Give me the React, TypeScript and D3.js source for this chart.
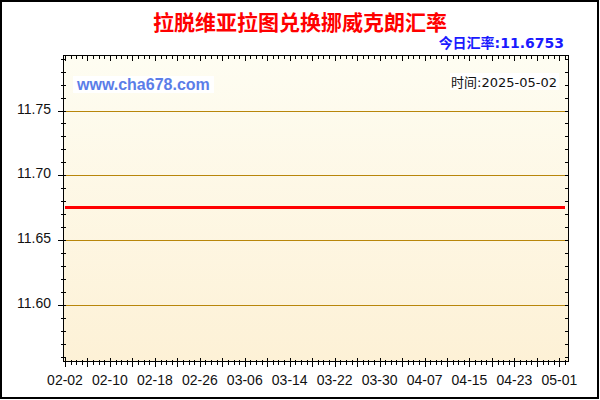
import React from "react";
import * as d3 from "d3";

// chart values
const title = "拉脱维亚拉图兑换挪威克朗汇率";
const todayLabel = "今日汇率:11.6753";
const timeLabel = "时间:2025-05-02";
const siteLabel = "www.cha678.com";

const startDate = "2025-02-02";
const endDate = "2025-05-02";

// daily rate, 02-02 .. 05-02 (flat)
const rates = [
  11.6753, 11.6753, 11.6753, 11.6753, 11.6753, 11.6753, 11.6753, 11.6753, 11.6753, 11.6753,
  11.6753, 11.6753, 11.6753, 11.6753, 11.6753, 11.6753, 11.6753, 11.6753, 11.6753, 11.6753,
  11.6753, 11.6753, 11.6753, 11.6753, 11.6753, 11.6753, 11.6753, 11.6753, 11.6753, 11.6753,
  11.6753, 11.6753, 11.6753, 11.6753, 11.6753, 11.6753, 11.6753, 11.6753, 11.6753, 11.6753,
  11.6753, 11.6753, 11.6753, 11.6753, 11.6753, 11.6753, 11.6753, 11.6753, 11.6753, 11.6753,
  11.6753, 11.6753, 11.6753, 11.6753, 11.6753, 11.6753, 11.6753, 11.6753, 11.6753, 11.6753,
  11.6753, 11.6753, 11.6753, 11.6753, 11.6753, 11.6753, 11.6753, 11.6753, 11.6753, 11.6753,
  11.6753, 11.6753, 11.6753, 11.6753, 11.6753, 11.6753, 11.6753, 11.6753, 11.6753, 11.6753,
  11.6753, 11.6753, 11.6753, 11.6753, 11.6753, 11.6753, 11.6753, 11.6753, 11.6753, 11.6753,
];

const xTickLabels = [
  "02-02", "02-10", "02-18", "02-26", "03-06", "03-14",
  "03-22", "03-30", "04-07", "04-15", "04-23", "05-01",
];
const yTickLabels = ["11.60", "11.65", "11.70", "11.75"];
const yDomain = [11.557, 11.792];

const width = 600;
const height = 400;
const plot = { left: 64, right: 568, top: 56, bottom: 361 };

export default function App() {
  const parse = d3.timeParse("%Y-%m-%d");
  const t0 = parse(startDate);
  const t1 = parse(endDate);
  const days = d3.timeDay.range(t0, d3.timeDay.offset(t1, 1));
  const data = days.map((d, i) => ({ date: d, value: rates[i] }));

  const x = d3.scaleTime().domain([t0, t1]).range([65, 565]);
  const y = d3.scaleLinear().domain(yDomain).range([plot.bottom, plot.top]);

  const line = d3
    .line()
    .x((d) => x(d.date))
    .y((d) => y(d.value));

  const yMinor = d3.range(1156, 1180).map((v) => v / 100);
  const labelFont = "'Liberation Sans', Arial, sans-serif";
  const cjk = "'Noto Sans CJK SC', sans-serif";

  return (
    <svg
      width={width}
      height={height}
      style={{ position: "absolute", left: 0, top: 0, background: "#fff" }}
    >
      <defs>
        <linearGradient id="bg" x1="0" y1="0" x2="0" y2="1">
          <stop offset="0%" stopColor="#fefdf2" />
          <stop offset="100%" stopColor="#fdf1d6" />
        </linearGradient>
      </defs>
      <rect x={0} y={0} width={width} height={height} fill="#fff" />
      <rect x={1} y={1} width={597} height={397} fill="none" stroke="#000" strokeWidth={2} />

      {/* plot area */}
      <rect
        x={plot.left}
        y={plot.top}
        width={plot.right - plot.left}
        height={plot.bottom - plot.top}
        fill="url(#bg)"
      />

      {/* gridlines */}
      {yTickLabels.map((t) => (
        <line
          key={"g" + t}
          x1={plot.left}
          x2={plot.right}
          y1={Math.round(y(+t)) + 0.5}
          y2={Math.round(y(+t)) + 0.5}
          stroke="#b8860b"
          strokeWidth={1}
        />
      ))}

      {/* watermark + date */}
      <rect x={73} y={76} width={141} height={17} fill="#fff" />
      <text x={77} y={90} fontFamily={labelFont} fontWeight="bold" fontSize={16} fill="#5b7de8">
        {siteLabel}
      </text>
      <rect x={450} y={73} width={109} height={17} fill="#fff" />
      <text
        x={557}
        y={87}
        textAnchor="end"
        fontFamily={"'DejaVu Sans', " + cjk}
        fontSize={13}
        fill="#111"
      >
        {timeLabel}
      </text>

      {/* series */}
      <path d={line(data)} fill="none" stroke="#ff0000" strokeWidth={3} />

      {/* frame */}
      <rect
        x={plot.left - 0.5}
        y={plot.top - 0.5}
        width={plot.right - plot.left + 1}
        height={plot.bottom - plot.top + 1}
        fill="none"
        stroke="#000"
        strokeWidth={1}
      />

      {/* x ticks (bottom and top) */}
      {days.map((d, i) => {
        const px = Math.round(x(d)) + 0.5;
        const major = i % 4 === 0;
        return (
          <g key={"x" + i}>
            <line x1={px} x2={px} y1={plot.bottom - (major ? 3 : 1)} y2={plot.bottom + (major ? 6 : 4)} stroke="#000" />
            <line x1={px} x2={px} y1={plot.top} y2={plot.top + (major ? 5 : 3)} stroke="#000" />
          </g>
        );
      })}
      {xTickLabels.map((t) => (
        <text
          key={"xl" + t}
          x={x(parse("2025-" + t))}
          y={385}
          textAnchor="middle"
          fontFamily={labelFont}
          fontSize={14}
          fill="#111"
        >
          {t}
        </text>
      ))}

      {/* y ticks (left and right) */}
      {yMinor.map((v) => {
        const py = Math.round(y(v)) + 0.5;
        const major = Math.round(v * 100) % 5 === 0;
        return (
          <g key={"y" + v}>
            <line x1={plot.left - (major ? 6 : 3)} x2={plot.left + 2} y1={py} y2={py} stroke="#000" />
            <line x1={plot.right - 3} x2={plot.right + 1} y1={py} y2={py} stroke="#000" />
          </g>
        );
      })}
      {yTickLabels.map((t) => (
        <text
          key={"yl" + t}
          x={51}
          y={y(+t) + 3}
          textAnchor="end"
          fontFamily={labelFont}
          fontSize={14}
          fill="#111"
        >
          {t}
        </text>
      ))}

      {/* header */}
      <text x={300} y={30} textAnchor="middle" fontFamily={cjk} fontWeight="bold" fontSize={21} fill="#ff0000">
        {title}
      </text>
      <text
        x={564}
        y={48}
        textAnchor="end"
        fontFamily={"'DejaVu Sans', " + cjk}
        fontWeight="bold"
        fontSize={14}
        fill="#1a1aff"
      >
        {todayLabel}
      </text>
    </svg>
  );
}
